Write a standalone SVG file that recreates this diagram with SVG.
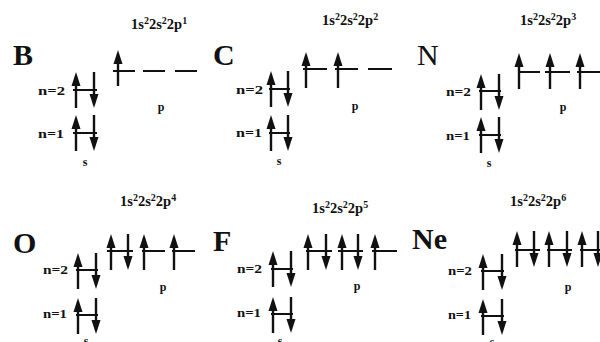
<svg xmlns="http://www.w3.org/2000/svg" xmlns:xlink="http://www.w3.org/1999/xlink" width="600" height="342" viewBox="0 0 600 342">
<style>
text{font-family:"Liberation Serif","Times New Roman",serif;font-weight:bold;fill:#111}
.el{font-size:30px}
.fm{font-size:14.5px}
.sp{font-size:10px}
.n{font-size:13px}
.sub{font-size:12px;text-anchor:middle}
.lv{stroke:#111;stroke-width:2.2;fill:none}
</style>
<defs>
<g id="up"><line x1="0" y1="10" x2="0" y2="36" stroke="#111" stroke-width="2.4"/><polygon points="0,0 -4.5,14 4.5,14" fill="#111"/></g>
<g id="dn"><line x1="0" y1="0" x2="0" y2="26" stroke="#111" stroke-width="2.4"/><polygon points="0,36 -4.5,22 4.5,22" fill="#111"/></g>
</defs>
<rect width="600" height="342" fill="#fff"/>

<g id="B">
<text class="el" x="13" y="65">B</text>
<text class="fm" x="131" y="29">1s<tspan class="sp" dy="-5">2</tspan><tspan dy="5">2s</tspan><tspan class="sp" dy="-5">2</tspan><tspan dy="5">2p</tspan><tspan class="sp" dy="-5">1</tspan></text>
<text class="n" x="38" y="95" textLength="27" lengthAdjust="spacingAndGlyphs">n=2</text>
<text class="n" x="38" y="138" textLength="26" lengthAdjust="spacingAndGlyphs">n=1</text>
<text class="sub" x="161" y="111">p</text>
<text class="sub" x="85" y="166">s</text>
<path class="lv" d="M113,71H135M143,71H165M175,71H197M73,90H97M73,133H97"/>
<use xlink:href="#up" x="118" y="50"/>
<use xlink:href="#up" x="76" y="72"/><use xlink:href="#dn" x="94" y="72"/>
<use xlink:href="#up" x="76" y="115"/><use xlink:href="#dn" x="94" y="115"/>
</g>

<g id="C">
<text class="el" x="213" y="65">C</text>
<text class="fm" x="322" y="25">1s<tspan class="sp" dy="-5">2</tspan><tspan dy="5">2s</tspan><tspan class="sp" dy="-5">2</tspan><tspan dy="5">2p</tspan><tspan class="sp" dy="-5">2</tspan></text>
<text class="n" x="236" y="94" textLength="27" lengthAdjust="spacingAndGlyphs">n=2</text>
<text class="n" x="236" y="137" textLength="26" lengthAdjust="spacingAndGlyphs">n=1</text>
<text class="sub" x="355" y="110">p</text>
<text class="sub" x="279" y="165">s</text>
<path class="lv" d="M303,69H327M335,69H358M368,69H392M269,89H290M269,133H290"/>
<use xlink:href="#up" x="306" y="52"/><use xlink:href="#up" x="338" y="52"/>
<use xlink:href="#up" x="271" y="71"/><use xlink:href="#dn" x="288" y="71"/>
<use xlink:href="#up" x="271" y="115"/><use xlink:href="#dn" x="288" y="115"/>
</g>

<g id="N">
<text class="el" x="417" y="65" style="font-weight:normal">N</text>
<text class="fm" x="520" y="25">1s<tspan class="sp" dy="-5">2</tspan><tspan dy="5">2s</tspan><tspan class="sp" dy="-5">2</tspan><tspan dy="5">2p</tspan><tspan class="sp" dy="-5">3</tspan></text>
<text class="n" x="446" y="96" textLength="25" lengthAdjust="spacingAndGlyphs">n=2</text>
<text class="n" x="446" y="140" textLength="24" lengthAdjust="spacingAndGlyphs">n=1</text>
<text class="sub" x="563" y="111">p</text>
<text class="sub" x="489" y="167">s</text>
<path class="lv" d="M518,72H540M545,72H570M577,72H600M479,91H501M479,135H501"/>
<use xlink:href="#up" x="519" y="53"/><use xlink:href="#up" x="550" y="53"/><use xlink:href="#up" x="580" y="53"/>
<use xlink:href="#up" x="481" y="74"/><use xlink:href="#dn" x="499" y="74"/>
<use xlink:href="#up" x="481" y="117"/><use xlink:href="#dn" x="499" y="117"/>
</g>

<g id="O">
<text class="el" x="13" y="253">O</text>
<text class="fm" x="120" y="206">1s<tspan class="sp" dy="-5">2</tspan><tspan dy="5">2s</tspan><tspan class="sp" dy="-5">2</tspan><tspan dy="5">2p</tspan><tspan class="sp" dy="-5">4</tspan></text>
<text class="n" x="43" y="274" textLength="25" lengthAdjust="spacingAndGlyphs">n=2</text>
<text class="n" x="43" y="318" textLength="24" lengthAdjust="spacingAndGlyphs">n=1</text>
<text class="sub" x="163" y="291">p</text>
<text class="sub" x="86" y="345">s</text>
<path class="lv" d="M107,251H133M142,251H165M172,251H195M76,270H98M76,315H98"/>
<use xlink:href="#up" x="111" y="234"/><use xlink:href="#dn" x="128" y="234"/><use xlink:href="#up" x="144" y="234"/><use xlink:href="#up" x="174" y="234"/>
<use xlink:href="#up" x="78" y="253"/><use xlink:href="#dn" x="96" y="253"/>
<use xlink:href="#up" x="78" y="298"/><use xlink:href="#dn" x="96" y="298"/>
</g>

<g id="F">
<text class="el" x="213" y="251">F</text>
<text class="fm" x="312" y="213">1s<tspan class="sp" dy="-5">2</tspan><tspan dy="5">2s</tspan><tspan class="sp" dy="-5">2</tspan><tspan dy="5">2p</tspan><tspan class="sp" dy="-5">5</tspan></text>
<text class="n" x="237" y="273" textLength="25" lengthAdjust="spacingAndGlyphs">n=2</text>
<text class="n" x="237" y="317" textLength="24" lengthAdjust="spacingAndGlyphs">n=1</text>
<text class="sub" x="357" y="290">p</text>
<text class="sub" x="280" y="345">s</text>
<path class="lv" d="M306,251H332M338,251H363M372,251H397M271,269H293M271,314H293"/>
<use xlink:href="#up" x="308" y="234"/><use xlink:href="#dn" x="326" y="234"/><use xlink:href="#up" x="342" y="234"/><use xlink:href="#dn" x="358" y="234"/><use xlink:href="#up" x="375" y="234"/>
<use xlink:href="#up" x="273" y="251"/><use xlink:href="#dn" x="291" y="251"/>
<use xlink:href="#up" x="273" y="297"/><use xlink:href="#dn" x="291" y="297"/>
</g>

<g id="Ne">
<text class="el" x="412" y="249">Ne</text>
<text class="fm" x="510" y="206">1s<tspan class="sp" dy="-5">2</tspan><tspan dy="5">2s</tspan><tspan class="sp" dy="-5">2</tspan><tspan dy="5">2p</tspan><tspan class="sp" dy="-5">6</tspan></text>
<text class="n" x="448" y="275" textLength="24" lengthAdjust="spacingAndGlyphs">n=2</text>
<text class="n" x="448" y="319" textLength="23" lengthAdjust="spacingAndGlyphs">n=1</text>
<text class="sub" x="568" y="291">p</text>
<text class="sub" x="492" y="346">s</text>
<path class="lv" d="M515,250H540M547,250H572M580,250H605M481,271H504M481,316H504"/>
<use xlink:href="#up" x="517" y="231"/><use xlink:href="#dn" x="534" y="231"/><use xlink:href="#up" x="549" y="231"/><use xlink:href="#dn" x="567" y="231"/><use xlink:href="#up" x="582" y="231"/><use xlink:href="#dn" x="598" y="231"/>
<use xlink:href="#up" x="483" y="254"/><use xlink:href="#dn" x="502" y="254"/>
<use xlink:href="#up" x="483" y="299"/><use xlink:href="#dn" x="502" y="299"/>
</g>
</svg>
